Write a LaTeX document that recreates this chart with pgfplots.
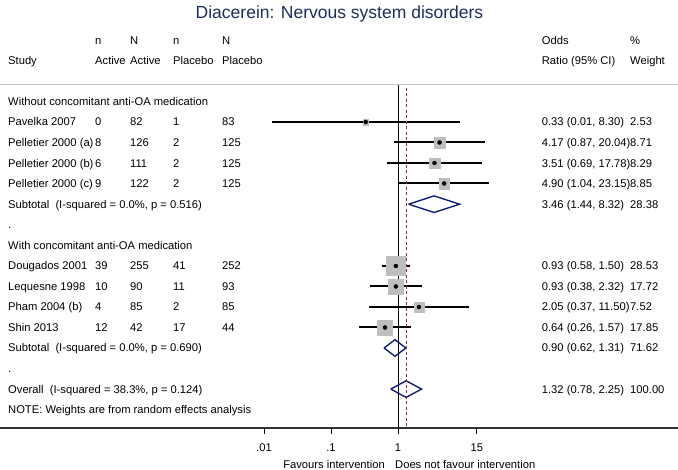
\documentclass[border=0pt]{standalone}
\usepackage{pgfplots}
\pgfplotsset{compat=1.18}
\usepackage{fontspec}
\setmainfont{Liberation Sans}
\definecolor{titlec}{RGB}{30,45,90}
\definecolor{dmd}{RGB}{20,30,120}
\definecolor{dashc}{RGB}{150,40,50}
\definecolor{boxg}{RGB}{190,190,190}
\definecolor{rulec}{RGB}{200,200,200}
\newcommand\R[8]{%
 \node[T] at (8,#1) {#2};
 \node[T] at (95,#1) {#3};
 \node[T] at (130,#1) {#4};
 \node[T] at (173,#1) {#5};
 \node[T] at (222,#1) {#6};
 \node[T] at (541.7,#1) {#7};
 \node[T] at (630,#1) {#8};}
\begin{document}
\begin{tikzpicture}
\begin{axis}[scale only axis, width=678pt, height=428pt, at={(0,0)}, anchor=south west,
 xmode=log, xmin=1.1474e-6, xmax=15105, ymin=-428, ymax=0,
 axis x line=bottom, axis y line=none,
 x axis line style={-, line width=1.1pt, color=black!80},
 xtick={0.01,0.1,1,15}, xticklabels={.01,.1,1,15}, xminorticks=false,
 xtick style={black, line width=0.8pt}, tick align=outside, major tick length=6pt,
 xticklabel style={font=\fontsize{11.2}{13}\selectfont, yshift=-6.5pt},
 /pgf/number format/assume math mode=true]
% reference line at 1
\addplot[black, line width=0.9pt] coordinates {(1,-85) (1,-428)};
% weight boxes
\addplot[scatter, only marks, mark=square*, color=boxg,
 mark options={draw=boxg, fill=boxg},
 scatter/use mapped color={draw=boxg, fill=boxg},
 visualization depends on={\thisrow{ms} \as \msz},
 scatter/@pre marker code/.append style={/tikz/mark size=\msz}]
 table[x=or, y=y] {
or y ms
0.33 -122.0 2.86
4.17 -142.5 5.31
3.51 -163.0 5.18
4.90 -183.5 5.35
0.93 -266.0 9.61
0.93 -286.5 7.58
2.05 -307.0 4.94
0.64 -327.5 7.60
};
% CI lines
\addplot[black, line width=2pt] coordinates {(0.013,-122.0) (8.30,-122.0)};
\addplot[black, line width=2pt] coordinates {(0.87,-142.5) (20.04,-142.5)};
\addplot[black, line width=2pt] coordinates {(0.69,-163.0) (17.78,-163.0)};
\addplot[black, line width=2pt] coordinates {(1.04,-183.5) (23.15,-183.5)};
\addplot[black, line width=2pt] coordinates {(0.58,-266.0) (1.50,-266.0)};
\addplot[black, line width=2pt] coordinates {(0.38,-286.5) (2.32,-286.5)};
\addplot[black, line width=2pt] coordinates {(0.37,-307.0) (11.50,-307.0)};
\addplot[black, line width=2pt] coordinates {(0.26,-327.5) (1.57,-327.5)};
% point estimates
\addplot[only marks, mark=*, mark size=2pt, black] coordinates {
(0.33,-122.0) (4.17,-142.5) (3.51,-163.0) (4.90,-183.5)
(0.93,-266.0) (0.93,-286.5) (2.05,-307.0) (0.64,-327.5)};
% diamonds
\addplot[dmd, line width=1.4pt] coordinates {(1.44,-204.2) (3.46,-195.9) (8.32,-204.2) (3.46,-212.5) (1.44,-204.2)};
\addplot[dmd, line width=1.4pt] coordinates {(0.62,-348.0) (0.90,-339.7) (1.31,-348.0) (0.90,-356.3) (0.62,-348.0)};
\addplot[dmd, line width=1.4pt] coordinates {(0.78,-389.1) (1.32,-380.8) (2.25,-389.1) (1.32,-397.4) (0.78,-389.1)};
% overall dashed line
\addplot[dashc, line width=0.9pt, dash pattern=on 3pt off 2.5pt] coordinates {(1.32,-88) (1.32,-428)};
\end{axis}
\begin{scope}[x=1pt, y=-1pt, shift={(0,428pt)}, T/.style={anchor=base west, inner sep=0pt, font=\fontsize{11.2}{13}\selectfont}]
\node[anchor=base, inner sep=0pt, font=\fontsize{17.5}{20}\selectfont, text=titlec] at (339.5,18.6) {Diacerein: Nervous system disorders};
\R{44.7}{}{n}{N}{n}{N}{Odds}{\%}
\R{65}{Study}{Active}{Active}{Placebo}{Placebo}{Ratio (95\% CI)}{Weight}
\draw[rulec, line width=1pt] (0,85) -- (678,85);
\node[T] at (8,105.5) {Without concomitant anti-OA medication};
\R{126.0}{Pavelka 2007}{0}{82}{1}{83}{0.33 (0.01, 8.30)}{2.53}
\R{146.6}{Pelletier 2000 (a)}{8}{126}{2}{125}{4.17 (0.87, 20.04)}{8.71}
\R{167.1}{Pelletier 2000 (b)}{6}{111}{2}{125}{3.51 (0.69, 17.78)}{8.29}
\R{187.7}{Pelletier 2000 (c)}{9}{122}{2}{125}{4.90 (1.04, 23.15)}{8.85}
\R{208.2}{Subtotal\ \ (I-squared = 0.0\%, p = 0.516)}{}{}{}{}{3.46 (1.44, 8.32)}{28.38}
\node[T] at (8,228.7) {.};
\node[T] at (8,249.3) {With concomitant anti-OA medication};
\R{269.8}{Dougados 2001}{39}{255}{41}{252}{0.93 (0.58, 1.50)}{28.53}
\R{290.4}{Lequesne 1998}{10}{90}{11}{93}{0.93 (0.38, 2.32)}{17.72}
\R{310.9}{Pham 2004 (b)}{4}{85}{2}{85}{2.05 (0.37, 11.50)}{7.52}
\R{331.4}{Shin 2013}{12}{42}{17}{44}{0.64 (0.26, 1.57)}{17.85}
\R{352.0}{Subtotal\ \ (I-squared = 0.0\%, p = 0.690)}{}{}{}{}{0.90 (0.62, 1.31)}{71.62}
\node[T] at (8,372.5) {.};
\R{393.1}{Overall\ \ (I-squared = 38.3\%, p = 0.124)}{}{}{}{}{1.32 (0.78, 2.25)}{100.00}
\node[T] at (8,413.6) {NOTE: Weights are from random effects analysis};
\node[T, anchor=base east] at (385,468.5) {Favours intervention};
\node[T] at (395,468.5) {Does not favour intervention};
\pgfresetboundingbox
\path[use as bounding box] (0,0) rectangle (678,470);
\end{scope}
\end{tikzpicture}
\end{document}
